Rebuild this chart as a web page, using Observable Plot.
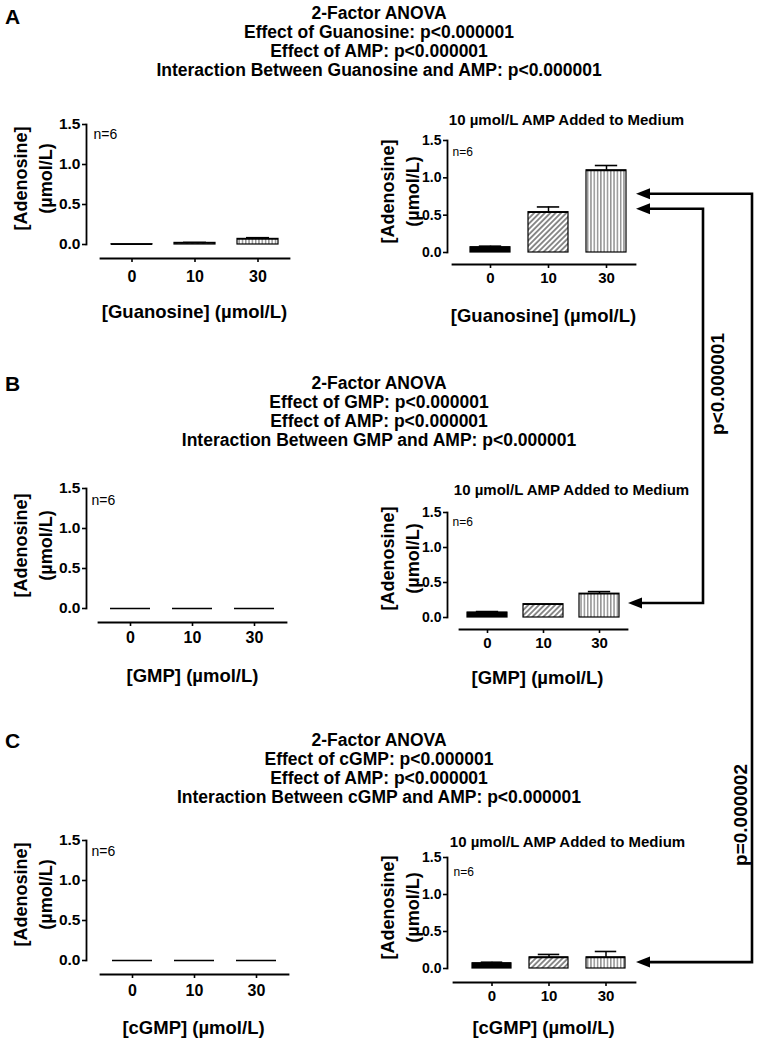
<!DOCTYPE html>
<html><head><meta charset="utf-8">
<script src="https://cdn.jsdelivr.net/npm/d3@7"></script>
<script src="https://cdn.jsdelivr.net/npm/@observablehq/plot@0.6"></script>
<style>
html,body{margin:0;padding:0;background:#fff;}
#page{position:relative;width:758px;height:1041px;overflow:hidden;font-family:"Liberation Sans",Arial,Helvetica,sans-serif;color:#000;}
.title{position:absolute;left:0;width:758px;text-align:center;font-weight:bold;font-size:17.5px;line-height:19px;}
.letter{position:absolute;left:5px;font-weight:bold;font-size:21px;line-height:21px;}
.chart{position:absolute;}
</style></head><body>
<div id="page">
<svg width="0" height="0" style="position:absolute;left:0;top:0">
<defs>
<pattern id="hatch" patternUnits="userSpaceOnUse" width="3.8" height="3.8" patternTransform="rotate(45)">
<rect width="3.8" height="3.8" fill="white"/>
<line x1="1.9" y1="-1" x2="1.9" y2="5" stroke="black" stroke-width="0.9"/>
</pattern>
<pattern id="vlines" patternUnits="userSpaceOnUse" width="3.3" height="4">
<rect width="3.3" height="4" fill="white"/>
<line x1="1.6" y1="-1" x2="1.6" y2="5" stroke="#222" stroke-width="0.8"/>
</pattern>
</defs>
</svg>
</div>
<script>
// ---------------- data ----------------
const categories = ["0", "10", "30"];

// panel A (guanosine)
const aNoAmpMean = [0.003, 0.02, 0.07];
const aNoAmpTop  = [0.003, 0.026, 0.085];
const aAmpMean   = [0.07, 0.54, 1.10];
const aAmpTop    = [0.085, 0.61, 1.165];
// panel B (GMP)
const bNoAmpMean = [0, 0, 0];
const bNoAmpTop  = [0, 0, 0];
const bAmpMean   = [0.07, 0.19, 0.34];
const bAmpTop    = [0.085, 0.19, 0.37];
// panel C (cGMP)
const cNoAmpMean = [0, 0, 0];
const cNoAmpTop  = [0, 0, 0];
const cAmpMean   = [0.07, 0.15, 0.15];
const cAmpTop    = [0.085, 0.19, 0.23];

const yTicks = [0, 0.5, 1.0, 1.5];
const panelLetters = ["A", "B", "C"];
const anovaTitles = [
  ["2-Factor ANOVA", "Effect of Guanosine: p<0.000001", "Effect of AMP: p<0.000001", "Interaction Between Guanosine and AMP: p<0.000001"],
  ["2-Factor ANOVA", "Effect of GMP: p<0.000001", "Effect of AMP: p<0.000001", "Interaction Between GMP and AMP: p<0.000001"],
  ["2-Factor ANOVA", "Effect of cGMP: p<0.000001", "Effect of AMP: p<0.000001", "Interaction Between cGMP and AMP: p<0.000001"]
];
const xLabels = ["[Guanosine] (\u00b5mol/L)", "[GMP] (\u00b5mol/L)", "[cGMP] (\u00b5mol/L)"];
const yLabel = "[Adenosine]\n(\u00b5mol/L)";
const nLabel = "n=6";
const ampTitle = "10 \u00b5mol/L AMP Added to Medium";

// comparison connectors (values on A's AMP chart / B or C AMP chart where arrows point)
const connectorLabels = ["p<0.000001", "p=0.000002"];
const connectorFrom = ["BR", "CR"];
const connectorFromValue = [0.20, 0.08];
const connectorToValue = [0.58, 0.78];

// ---------------- styles / layout ----------------
const barFills = ["black", "url(#hatch)", "url(#vlines)"];
const FONT = '"Liberation Sans", Arial, Helvetica, sans-serif';

const layout = {
  AL: {left:0, top:100, width:300, height:232, x0:100, x1:289, yAxisX:86, yTop:124, y0:244, xAxisY:258, catY:276, xLabelX:194, xLabelY:312, yLabelX:31, yLabelY:178, nX:93, nY:134, pi:0.355, po:0.17, align:0.5, big:true},
  AR: {left:365, top:100, width:285, height:235, x0:452, x1:635, yAxisX:447, yTop:140, y0:252, xAxisY:264, catY:277, xLabelX:543, xLabelY:316, yLabelX:398, yLabelY:191, nX:452, nY:152, titleX:566, titleY:120, pi:0.31, po:0.23, align:0.65, big:false},
  BL: {left:0, top:470, width:300, height:222, x0:98, x1:286, yAxisX:86, yTop:488, y0:608, xAxisY:622, catY:637, xLabelX:192, xLabelY:676, yLabelX:31, yLabelY:545, nX:91, nY:500, pi:0.355, po:0.17, align:0.5, big:true},
  BR: {left:365, top:470, width:285, height:222, x0:459, x1:627, yAxisX:447, yTop:512, y0:617, xAxisY:629, catY:642, xLabelX:537, xLabelY:678, yLabelX:398, yLabelY:558, nX:452, nY:522, titleX:571, titleY:490, pi:0.29, po:0.13, align:0.5, big:false},
  CL: {left:0, top:820, width:300, height:221, x0:100, x1:288, yAxisX:86, yTop:840, y0:960, xAxisY:974, catY:990, xLabelX:193, xLabelY:1028, yLabelX:31, yLabelY:894, nX:91, nY:851, pi:0.355, po:0.17, align:0.5, big:true},
  CR: {left:365, top:820, width:285, height:221, x0:453, x1:635, yAxisX:447, yTop:857, y0:968, xAxisY:982, catY:995, xLabelX:543, xLabelY:1028, yLabelX:398, yLabelY:907, nX:453, nY:872, titleX:567, titleY:842, pi:0.31, po:0.23, align:0.65, big:false}
};
const titleTops = [3.5, 373.5, 730.5];
const letterTops = [6, 373, 730];
const connectorLayout = [{railX:703, labelX:717, labelY:384}, {railX:752, labelX:740, labelY:815}];

const page = document.getElementById("page");

// titles
panelLetters.forEach((L, i) => {
  const d = document.createElement("div");
  d.className = "letter"; d.style.top = letterTops[i] + "px"; d.textContent = L;
  page.appendChild(d);
  const t = document.createElement("div");
  t.className = "title"; t.style.top = titleTops[i] + "px";
  t.innerHTML = anovaTitles[i].map(s => s.replace(/</g, "&lt;")).join("<br>");
  page.appendChild(t);
});

function drawChart(key, mean, top, xLabel, withTitle) {
  const c = layout[key];
  const data = categories.map((cat, i) => ({cat, mean: mean[i], hi: top[i], pat: barFills[i]}));
  const errs = data.filter(d => d.hi > d.mean);
  const ml = c.x0 - c.left, mr = c.left + c.width - c.x1, mt = c.yTop - c.top, mb = c.top + c.height - c.y0;
  const tickFs = c.big ? 15.5 : 14, catFs = c.big ? 16 : 15;
  const step = (c.x1 - c.x0) / (categories.length - c.pi + 2 * c.po);
  const bw = step * (1 - c.pi);
  const cap = bw * 0.22;
  const marks = [
    Plot.frame({anchor: "left", dx: c.yAxisX - c.x0, strokeWidth: 1.8}),
    Plot.frame({anchor: "bottom", dy: c.xAxisY - c.y0, strokeWidth: 1.8}),
    Plot.axisY({ticks: yTicks, tickFormat: d3.format(".1f"), tickSize: 4, tickPadding: 2, dx: c.yAxisX - c.x0,
      fontSize: tickFs, fontWeight: "bold", strokeWidth: 1.6, label: null}),
    Plot.axisX({tickSize: 4, tickPadding: c.catY - c.xAxisY - 4 - 0.36 * catFs, dy: c.xAxisY - c.y0,
      fontSize: catFs, fontWeight: "bold", strokeWidth: 1.6, label: null}),
    Plot.barY(data, {x: "cat", y: "mean", fill: "pat", stroke: "black", strokeWidth: 1.2}),
    Plot.tickY(data, {x: "cat", y: "mean", stroke: "black", strokeWidth: 1.6}),
    Plot.ruleX(errs, {x: "cat", y1: "mean", y2: "hi", stroke: "black", strokeWidth: 1.5}),
    Plot.tickY(errs, {x: "cat", y: "hi", insetLeft: cap, insetRight: cap, stroke: "black", strokeWidth: 1.6}),
    Plot.text([yLabel], {text: d => d, frameAnchor: "left", dx: c.yLabelX - c.x0, dy: c.yLabelY - (c.yTop + c.y0) / 2,
      rotate: -90, textAnchor: "middle", lineAnchor: "middle", lineHeight: 1.4, fontSize: 18, fontWeight: "bold"}),
    Plot.text([xLabel], {text: d => d, frameAnchor: "bottom-left", dx: c.xLabelX - c.x0, dy: c.xLabelY - c.y0,
      textAnchor: "middle", lineAnchor: "middle", fontSize: 18.5, fontWeight: "bold"}),
    Plot.text([nLabel], {text: d => d, frameAnchor: "top-left", dx: c.nX - c.x0, dy: c.nY - c.yTop,
      textAnchor: "start", lineAnchor: "middle", fontSize: c.big ? 14 : 12})
  ];
  if (withTitle) {
    marks.push(Plot.text([ampTitle], {text: d => d, frameAnchor: "top-left", dx: c.titleX - c.x0, dy: c.titleY - c.yTop,
      textAnchor: "middle", lineAnchor: "middle", fontSize: 15, fontWeight: "bold"}));
  }
  const svg = Plot.plot({
    width: c.width, height: c.height,
    marginLeft: ml, marginRight: mr, marginTop: mt, marginBottom: mb,
    style: {fontFamily: FONT, color: "black", background: "none", overflow: "visible", maxWidth: "none"},
    x: {type: "band", domain: categories, paddingInner: c.pi, paddingOuter: c.po, align: c.align, axis: null},
    y: {domain: [0, 1.5], axis: null},
    color: {type: "identity"},
    marks
  });
  const wrap = document.createElement("div");
  wrap.className = "chart";
  wrap.style.left = c.left + "px"; wrap.style.top = c.top + "px";
  wrap.style.width = c.width + "px"; wrap.style.height = c.height + "px";
  wrap.appendChild(svg);
  page.appendChild(wrap);
  return svg;
}

const charts = {
  AL: drawChart("AL", aNoAmpMean, aNoAmpTop, xLabels[0], false),
  AR: drawChart("AR", aAmpMean, aAmpTop, xLabels[0], true),
  BL: drawChart("BL", bNoAmpMean, bNoAmpTop, xLabels[1], false),
  BR: drawChart("BR", bAmpMean, bAmpTop, xLabels[1], true),
  CL: drawChart("CL", cNoAmpMean, cNoAmpTop, xLabels[2], false),
  CR: drawChart("CR", cAmpMean, cAmpTop, xLabels[2], true)
};

// connector overlay
const ov = d3.select(page).append("svg")
  .attr("width", 758).attr("height", 1041)
  .style("position", "absolute").style("left", "0px").style("top", "0px")
  .style("pointer-events", "none").style("font-family", FONT);
function yAbs(key, v) { return layout[key].top + charts[key].scale("y").apply(v); }
function arrowHead(x, y) {
  ov.append("path").attr("d", `M${x},${y}L${x + 14},${y - 5.5}L${x + 14},${y + 5.5}Z`).attr("fill", "black");
}
connectorLabels.forEach((label, i) => {
  const L = connectorLayout[i];
  const yTo = yAbs("AR", connectorToValue[i]);
  const yFrom = yAbs(connectorFrom[i], connectorFromValue[i]);
  const tipTo = layout.AR.x1 + 1, tipFrom = layout[connectorFrom[i]].x1 + 1;
  ov.append("path")
    .attr("d", `M${tipTo + 12},${yTo}H${L.railX}V${yFrom}H${tipFrom + 12}`)
    .attr("fill", "none").attr("stroke", "black").attr("stroke-width", 2.6);
  arrowHead(tipTo, yTo);
  arrowHead(tipFrom, yFrom);
  ov.append("text").text(label)
    .attr("transform", `translate(${L.labelX},${L.labelY}) rotate(-90)`)
    .attr("text-anchor", "middle").attr("dominant-baseline", "central")
    .attr("font-size", 19).attr("font-weight", "bold").attr("fill", "black");
});
</script>
</body></html>
